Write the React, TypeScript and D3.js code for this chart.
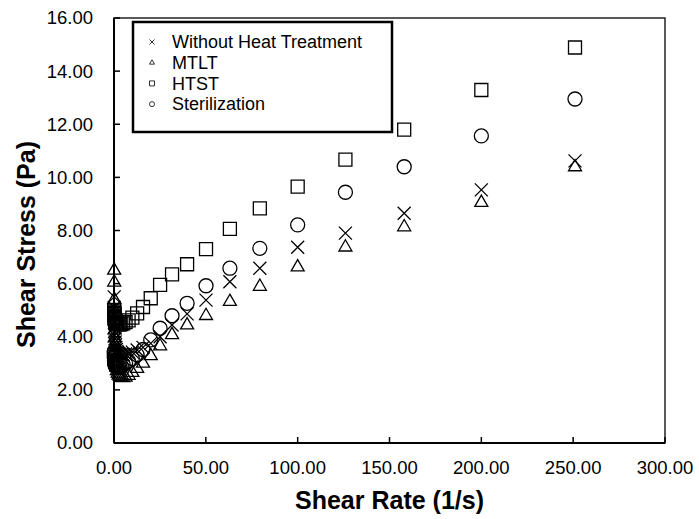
import * as d3 from 'd3';

// shear rate (1/s), 10 points per decade
const shearRates = [
  0.1, 0.126, 0.158, 0.2, 0.251, 0.316, 0.398, 0.501, 0.631, 0.794,
  1, 1.26, 1.58, 2, 2.51, 3.16, 3.98, 5.01, 6.31, 7.94,
  10, 12.6, 15.8, 20, 25.1, 31.6, 39.8, 50.1, 63.1, 79.4,
  100, 126, 158, 200, 251,
];

// shear stress (Pa)
const withoutHeat = [
  5.5, 5.1, 4.8, 4.55, 4.35, 4.2, 4.05, 3.92, 3.8, 3.7,
  3.6, 3.52, 3.45, 3.4, 3.36, 3.34, 3.33, 3.33, 3.35, 3.38,
  3.42, 3.5, 3.6, 3.75, 4.0, 4.44, 4.86, 5.38, 6.07, 6.58,
  7.37, 7.9, 8.65, 9.53, 10.62,
];
const mtlt = [
  6.5, 6.05, 5.4, 5.0, 4.6, 4.25, 3.95, 3.7, 3.45, 3.2,
  3.0, 2.85, 2.72, 2.62, 2.55, 2.5, 2.46, 2.45, 2.47, 2.54,
  2.65, 2.8, 3.0, 3.28, 3.65, 4.07, 4.44, 4.79, 5.32, 5.89,
  6.62, 7.37, 8.13, 9.05, 10.39,
];
const htst = [
  5.0, 4.95, 4.9, 4.85, 4.8, 4.75, 4.7, 4.66, 4.62, 4.58,
  4.55, 4.52, 4.5, 4.48, 4.47, 4.47, 4.48, 4.5, 4.55, 4.62,
  4.72, 4.88, 5.12, 5.45, 5.95, 6.35, 6.73, 7.3, 8.06, 8.83,
  9.65, 10.67, 11.8, 13.29, 14.89,
];
const sterilization = [
  3.45, 3.35, 3.27, 3.2, 3.12, 3.06, 3.0, 2.96, 2.92, 2.9,
  2.88, 2.86, 2.85, 2.85, 2.86, 2.87, 2.9, 2.94, 3.0, 3.08,
  3.18, 3.32, 3.52, 3.88, 4.32, 4.79, 5.26, 5.92, 6.58, 7.33,
  8.21, 9.44, 10.4, 11.56, 12.95,
];

const seriesNames = ['Without Heat Treatment', 'MTLT', 'HTST', 'Sterilization'];
const seriesValues = [withoutHeat, mtlt, htst, sterilization];
const seriesShapes = ['x', 'triangle', 'square', 'circle'];

const xTicks = [0, 50, 100, 150, 200, 250, 300];
const yTicks = [0, 2, 4, 6, 8, 10, 12, 14, 16];

const FONT = 'Arial, "Liberation Sans", sans-serif';

function markerPath(shape: string, s: number) {
  if (shape === 'x') {
    const h = s / 2;
    return `M${-h},${-h}L${h},${h}M${-h},${h}L${h},${-h}`;
  }
  if (shape === 'triangle') return d3.symbol(d3.symbolTriangle, (s * s * Math.sqrt(3)) / 4)()!;
  if (shape === 'square') return d3.symbol(d3.symbolSquare, s * s)()!;
  return d3.symbol(d3.symbolCircle, (Math.PI * s * s) / 4)()!;
}

export default function App() {
  const width = 699;
  const height = 519;
  const margin = { top: 18, right: 34, bottom: 76, left: 114 };

  const x = d3.scaleLinear().domain([0, 300]).range([margin.left, width - margin.right]);
  const y = d3.scaleLinear().domain([0, 16]).range([height - margin.bottom, margin.top]);

  const [x0, x1] = x.range();
  const [y0, y1] = y.range();

  return (
    <svg width={width} height={height} style={{ position: 'absolute', left: 0, top: 0 }}>
      <rect width={width} height={height} fill="#fff" />

      {/* frame */}
      <rect x={x0} y={y1} width={x1 - x0} height={y0 - y1} fill="none" stroke="#000" strokeWidth={1.3} />
      <line x1={x0} x2={x1} y1={y0} y2={y0} stroke="#000" strokeWidth={2} />
      <line x1={x0} x2={x0} y1={y0} y2={y1} stroke="#000" strokeWidth={2} />

      {/* x ticks */}
      {xTicks.map(t => (
        <g key={'x' + t}>
          <line x1={x(t)} x2={x(t)} y1={y0} y2={y0 - 6} stroke="#000" strokeWidth={1.5} />
          <text x={x(t)} y={y0 + 31} textAnchor="middle" fontFamily={FONT} fontSize={18.5}>
            {t.toFixed(2)}
          </text>
        </g>
      ))}

      {/* y ticks */}
      {yTicks.map(t => (
        <g key={'y' + t}>
          <line x1={x0} x2={x0 + 6} y1={y(t)} y2={y(t)} stroke="#000" strokeWidth={1.5} />
          <text x={x0 - 21} y={y(t)} dy="0.35em" textAnchor="end" fontFamily={FONT} fontSize={18.5}>
            {t.toFixed(2)}
          </text>
        </g>
      ))}

      <text x={(x0 + x1) / 2} y={height - 10} textAnchor="middle" fontFamily={FONT} fontSize={25} fontWeight="bold">
        Shear Rate (1/s)
      </text>
      <text
        transform={`translate(26,${(y0 + y1) / 2 + 14}) rotate(-90)`}
        textAnchor="middle"
        dy="0.35em"
        fontFamily={FONT}
        fontSize={25}
        fontWeight="bold"
      >
        Shear Stress (Pa)
      </text>

      {/* points */}
      {seriesValues.map((vals, si) => (
        <g key={seriesNames[si]}>
          {vals.map((v, i) => (
            <path
              key={i}
              transform={`translate(${x(shearRates[i])},${y(v)})`}
              d={markerPath(seriesShapes[si], seriesShapes[si] === 'circle' ? 14 : 13)}
              fill="none"
              stroke="#000"
              strokeWidth={1.3}
            />
          ))}
        </g>
      ))}

      {/* legend */}
      <g>
        <rect x={133} y={22} width={259} height={110} fill="#fff" stroke="#000" strokeWidth={2.5} />
        {seriesNames.map((name, i) => (
          <g key={name} transform={`translate(152,${42 + i * 20.7})`}>
            <path d={markerPath(seriesShapes[i], 5)} fill="none" stroke="#333" strokeWidth={1} />
            <text x={20} dy="0.35em" fontFamily={FONT} fontSize={18}>
              {name}
            </text>
          </g>
        ))}
      </g>
    </svg>
  );
}
